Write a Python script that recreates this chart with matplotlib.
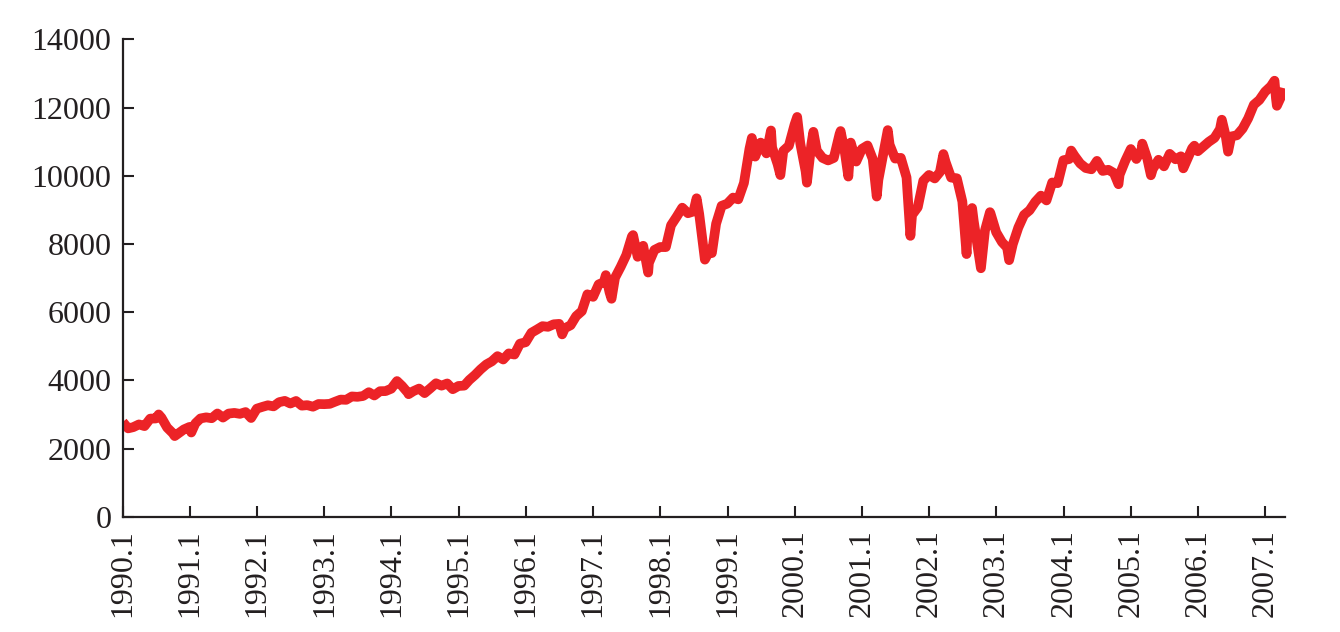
import matplotlib
matplotlib.use("Agg")
import matplotlib.pyplot as plt
import numpy as np
import pandas as pd

# month-end index values (1990.01 - 2007.03)
first_month = "1990-01"
monthly_close = [
    2591, 2627, 2707, 2657, 2877, 2881, 2905, 2614, 2453, 2442, 2560, 2634,   # 1990
    2736, 2882, 2914, 2888, 3028, 2907, 3025, 3044, 3017, 3069, 2895, 3169,   # 1991
    3223, 3268, 3236, 3359, 3397, 3319, 3394, 3257, 3272, 3226, 3305, 3301,   # 1992
    3310, 3371, 3435, 3428, 3527, 3516, 3540, 3651, 3555, 3681, 3684, 3754,   # 1993
    3978, 3832, 3636, 3682, 3758, 3625, 3765, 3913, 3843, 3908, 3739, 3834,   # 1994
    3844, 4011, 4158, 4321, 4465, 4556, 4709, 4611, 4789, 4756, 5075, 5117,   # 1995
    5395, 5486, 5588, 5569, 5643, 5655, 5529, 5616, 5882, 6029, 6522, 6448,   # 1996
    6813, 6878, 6584, 7009, 7331, 7673, 8223, 7622, 7945, 7442, 7823, 7908,   # 1997
    7907, 8546, 8800, 9063, 8900, 8952, 8883, 7539, 7843, 8592, 9117, 9181,   # 1998
    9359, 9307, 9786, 10789, 10560, 10971, 10655, 10829, 10337, 10730, 10878, 11497,  # 1999
    10941, 10128, 10922, 10734, 10522, 10448, 10522, 11215, 10651, 10971, 10415, 10788,  # 2000
    10887, 10495, 9879, 10735, 10912, 10502, 10523, 9950, 8848, 9075, 9852, 10022,  # 2001
    9920, 10106, 10404, 9946, 9925, 9243, 8737, 8664, 7592, 8397, 8896, 8342,  # 2002
    8054, 7891, 7992, 8480, 8850, 8985, 9234, 9416, 9275, 9801, 9782, 10454,  # 2003
    10488, 10584, 10358, 10226, 10188, 10435, 10140, 10174, 10080, 10027, 10428, 10783,  # 2004
    10490, 10766, 10504, 10193, 10467, 10275, 10641, 10482, 10569, 10440, 10806, 10718,  # 2005
    10865, 10993, 11109, 11367, 11168, 11150, 11186, 11381, 11679, 12081, 12221, 12463,  # 2006
    12622, 12269, 12354,  # 2007
]

# extra highs / lows inside the months (spikes of the curve)
extra_dates = [
    "1990-01-02", "1990-07-16", "1990-10-11", "1991-01-09", "1994-04-04",
    "1996-07-16", "1997-03-11", "1997-04-11", "1997-08-06", "1997-10-27",
    "1998-07-17", "1998-10-08", "1999-05-13", "1999-08-25", "1999-10-15",
    "2000-01-14", "2000-03-07", "2000-04-11", "2000-09-06", "2000-10-18",
    "2001-03-22", "2001-05-21", "2001-09-21", "2002-03-19", "2002-07-23",
    "2002-08-22", "2002-10-09", "2002-11-27", "2003-03-11", "2004-02-11",
    "2004-10-25", "2005-03-04", "2005-04-20", "2005-10-13", "2005-12-12",
    "2006-05-10", "2006-06-13", "2007-02-20", "2007-03-05", "2007-04-10",
]
extra_values = [
    2780, 2999, 2365, 2470, 3593,
    5347, 7085, 6391, 8259, 7161,
    9338, 7731, 11107, 11326, 10019,
    11723, 9796, 11287, 11310, 9975,
    9389, 11337, 8236, 10635, 7702,
    9053, 7286, 8931, 7524, 10737,
    9750, 10940, 10013, 10216, 10880,
    11642, 10706, 12786, 12050, 12570,
]

year_ticks = list(range(1990, 2008))
year_labels = [f"{y}.1" for y in year_ticks]

ink = "#231F20"
red = "#EC2327"

month_dates = pd.date_range(first_month, periods=len(monthly_close), freq="ME")
s = pd.concat([
    pd.Series(monthly_close, index=month_dates),
    pd.Series(extra_values, index=pd.to_datetime(extra_dates)),
]).sort_index()
x = s.index.year + (s.index.dayofyear - 1) / 365.25

plt.rcParams["font.family"] = ["Liberation Serif", "DejaVu Serif"]
fig = plt.figure(figsize=(13.4, 6.32), dpi=100)
ax = fig.add_axes([0.0915, 0.1824, 0.8678, 0.7554])

ax.plot(x, s.values, color=red, linewidth=7, solid_joinstyle="round",
        solid_capstyle="butt")

ax.set_xlim(1990, 2007.30)
ax.set_ylim(0, 14000)
ax.set_yticks(np.arange(0, 14001, 2000))
ax.set_xticks(year_ticks)
ax.set_xticklabels(year_labels, rotation=90)

for side in ["top", "right"]:
    ax.spines[side].set_visible(False)
for side in ["left", "bottom"]:
    ax.spines[side].set_color(ink)
    ax.spines[side].set_linewidth(1.6)

ax.tick_params(axis="both", direction="in", length=8, width=1.5, color=ink,
               labelsize=23, labelcolor=ink)
ax.tick_params(axis="y", pad=8)
ax.tick_params(axis="x", pad=9)

fig.savefig("out.png", dpi=100)
